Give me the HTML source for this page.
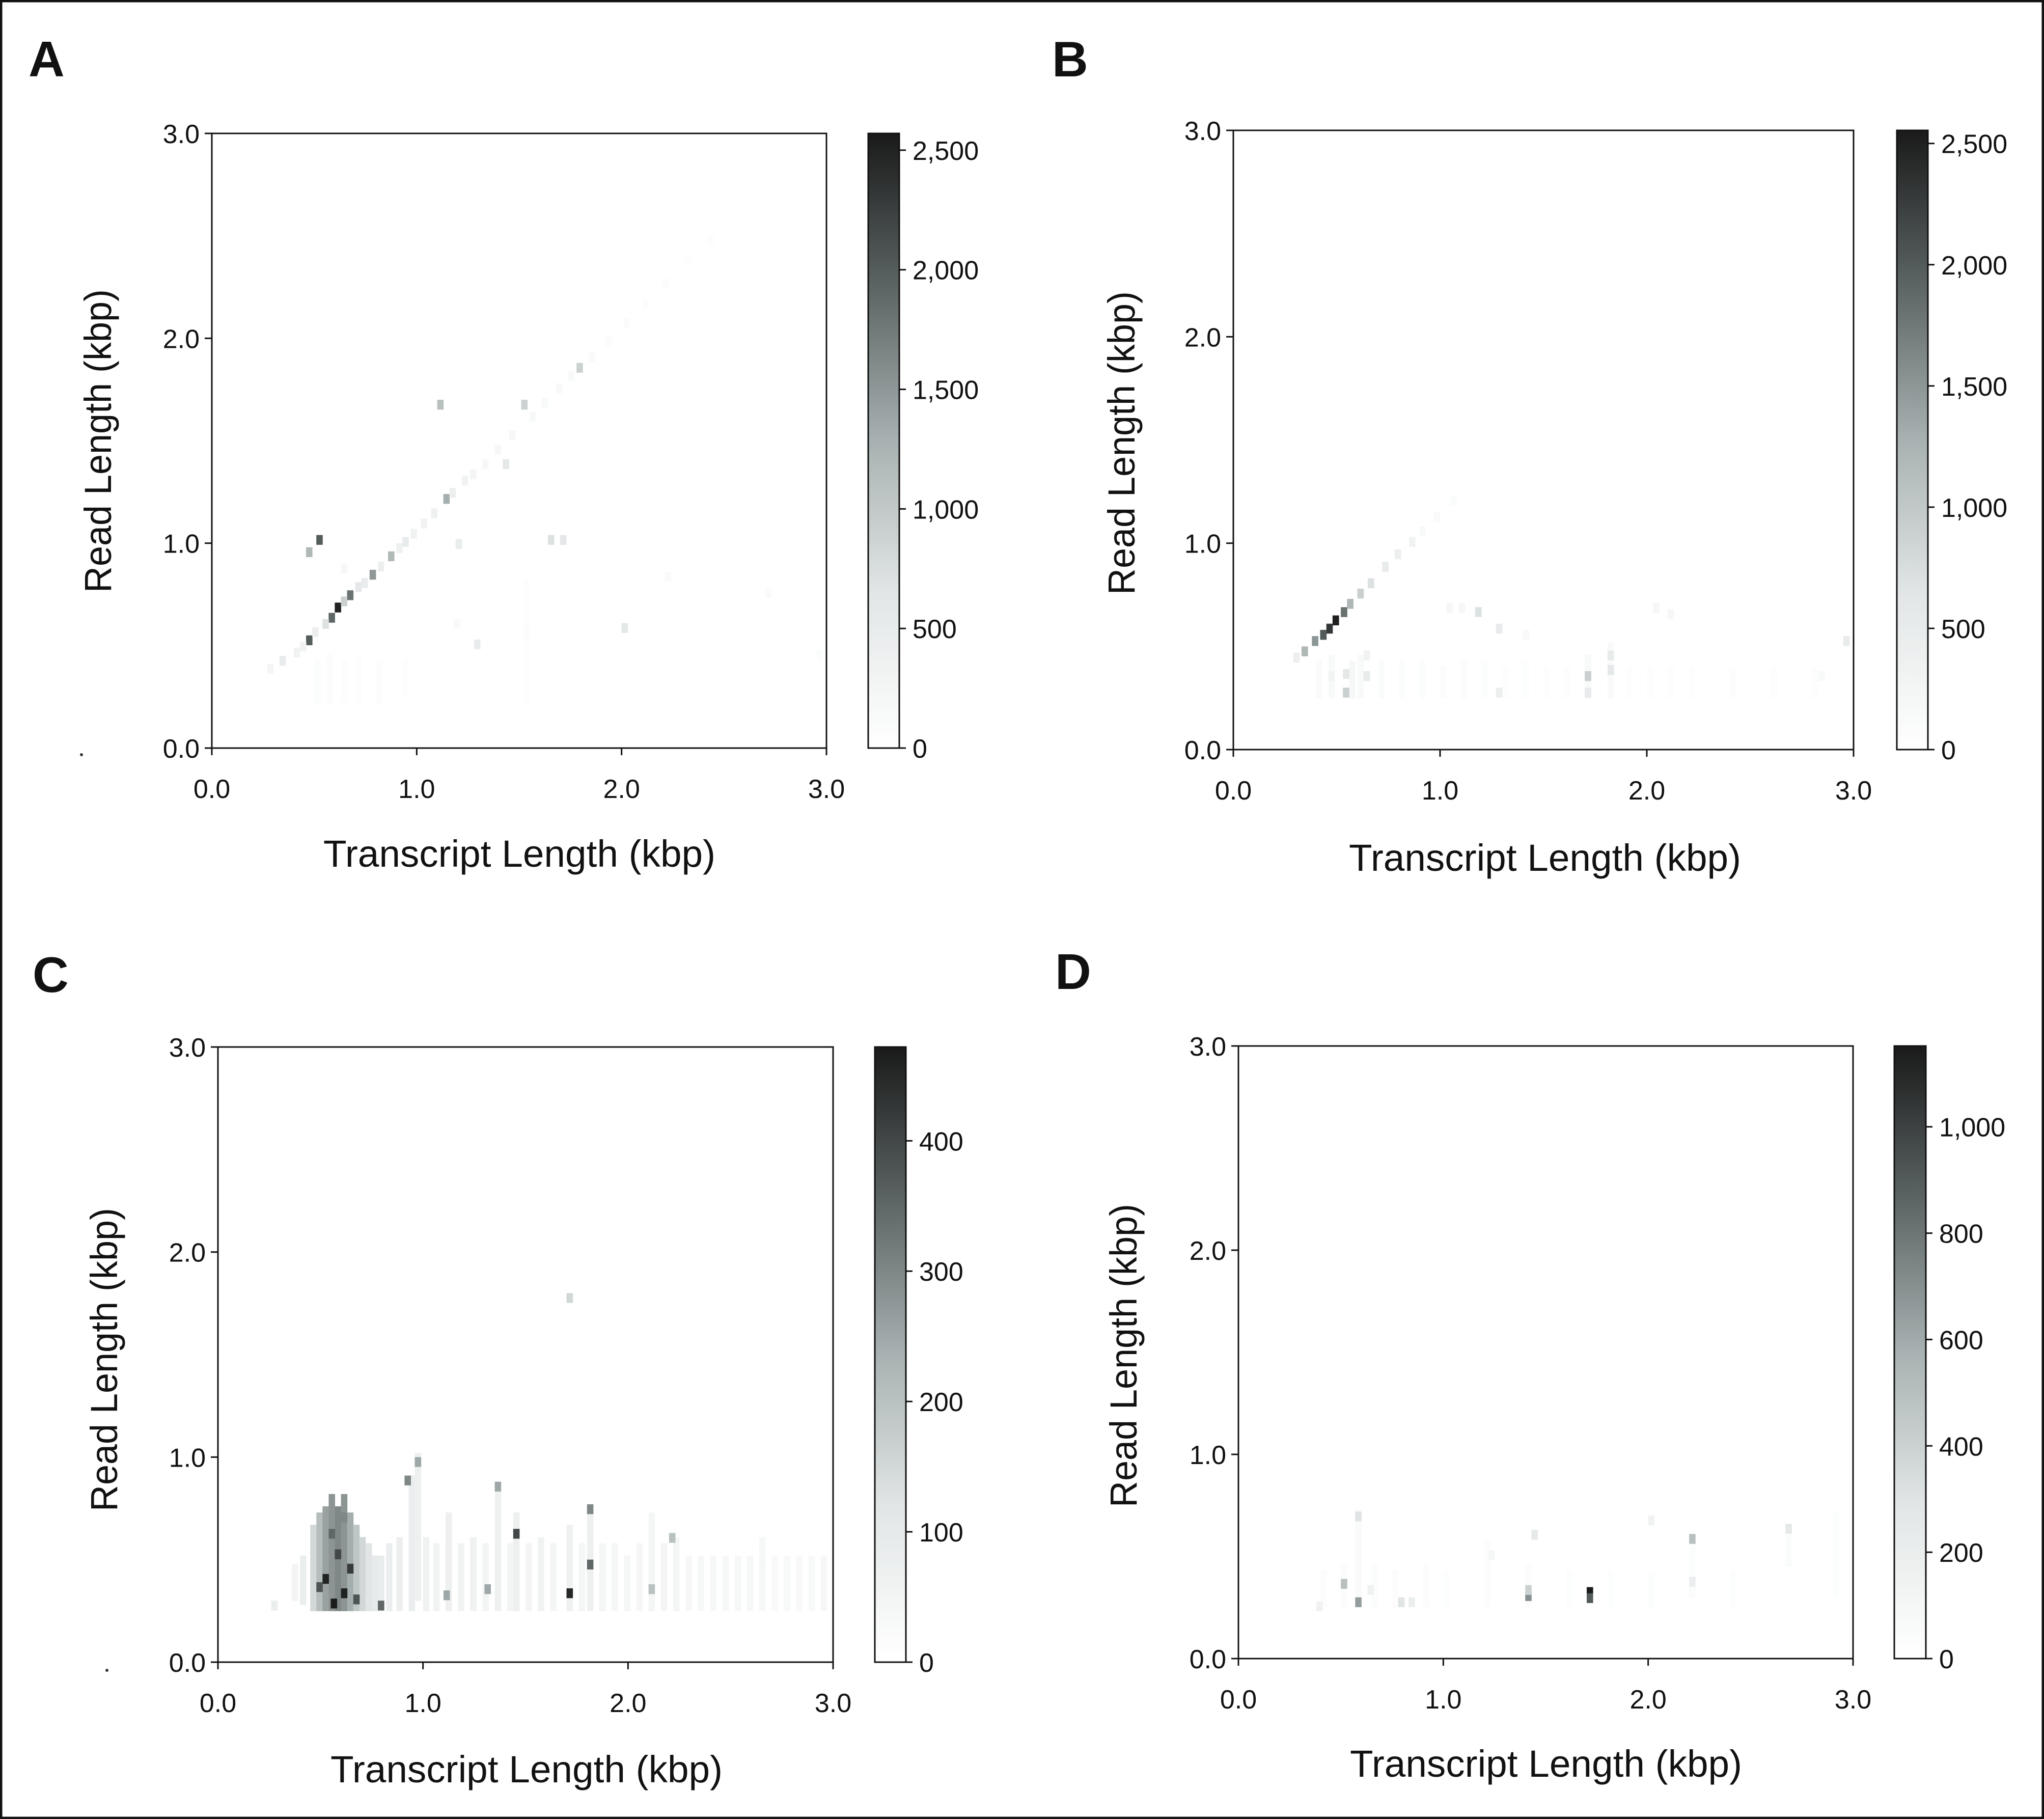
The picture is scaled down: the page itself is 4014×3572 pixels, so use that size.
<!DOCTYPE html>
<html><head><meta charset="utf-8"><style>
html,body{margin:0;padding:0;background:#fff}
svg{display:block}
text{font-family:"Liberation Sans",sans-serif;fill:#111}
</style></head><body>
<svg id="fig" width="4014" height="3572" viewBox="0 0 4014 3572" xmlns="http://www.w3.org/2000/svg">
<defs>
<linearGradient id="cmap" x1="0" y1="1" x2="0" y2="0">
<stop offset="0" stop-color="#ffffff"/><stop offset="0.25" stop-color="#e2e6e6"/><stop offset="0.5" stop-color="#a8b1b1"/><stop offset="0.75" stop-color="#5c6464"/><stop offset="1" stop-color="#1a1a1a"/>
</linearGradient>
</defs>
<rect x="2" y="2" width="4010" height="3568" fill="#fff" stroke="#111" stroke-width="5"/>
</svg>
<script>
// ---- data (kbp, counts) ----
const xTicks=[0,1,2,3];
const xTickLabels=["0.0","1.0","2.0","3.0"];
const yTicks=[0,1,2,3];
const yTickLabels=["0.0","1.0","2.0","3.0"];
const cbarMaxA=2570, cbarTicksA=[0,500,1000,1500,2000,2500], cbarLabelsA=["0","500","1,000","1,500","2,000","2,500"];
const cbarMaxB=2554, cbarTicksB=[0,500,1000,1500,2000,2500], cbarLabelsB=["0","500","1,000","1,500","2,000","2,500"];
const cbarMaxC=472, cbarTicksC=[0,100,200,300,400], cbarLabelsC=["0","100","200","300","400"];
const cbarMaxD=1152, cbarTicksD=[0,200,400,600,800,1000], cbarLabelsD=["0","200","400","600","800","1,000"];
// point cells [transcript, read, count]
const cellsA=[[0.60,0.68,2500],[0.57,0.63,1900],[0.66,0.74,1800],[0.46,0.52,2000],[0.51,1.01,2000],[0.46,0.95,1200],[0.77,0.84,1500],[0.86,0.93,1200],[1.13,1.21,1300],[1.10,1.67,1100],[1.51,1.67,900],[1.78,1.85,900],[1.64,1.01,700],[1.70,1.01,600],[2.00,0.58,600],[0.93,1.00,500],[1.19,0.99,500],[1.28,0.50,500],[0.33,0.42,500],[1.42,1.38,600],[0.54,0.60,700],[0.63,0.71,900],[0.70,0.78,600],[0.73,0.80,500],[0.81,0.88,400],[0.90,0.97,350],[0.97,1.04,300],[1.02,1.09,300],[1.07,1.14,350],[1.16,1.24,400],[1.22,1.30,300],[1.26,1.33,250],[1.32,1.38,200],[1.38,1.45,200],[1.45,1.52,200],[1.55,1.61,180],[1.61,1.68,150],[1.68,1.75,150],[1.74,1.81,150],[1.84,1.90,120],[1.92,1.98,100],[2.01,2.07,90],[2.10,2.16,80],[2.20,2.26,70],[2.31,2.37,60],[2.42,2.47,50],[2.70,0.75,120],[2.21,0.83,120],[0.27,0.38,250],[0.40,0.46,300],[0.43,0.49,300],[0.49,0.56,400],[1.18,0.60,150],[1.52,0.56,80],[0.63,0.87,200],[2.95,0.45,80]];
const cellsB=[[0.48,0.62,2500],[0.45,0.58,2300],[0.42,0.55,2000],[0.52,0.66,1800],[0.38,0.52,1500],[0.33,0.47,1200],[0.55,0.70,1200],[0.60,0.75,900],[0.65,0.80,700],[0.72,0.88,500],[0.78,0.94,400],[0.85,1.00,300],[0.53,0.27,900],[0.53,0.36,600],[0.63,0.35,500],[1.17,0.66,700],[1.27,0.58,500],[1.70,0.35,900],[1.81,0.38,600],[1.81,0.45,500],[2.95,0.52,500],[1.27,0.27,400],[0.46,0.35,300],[0.29,0.44,400],[0.63,0.45,300],[1.70,0.27,500],[1.03,0.68,200],[1.09,0.68,200],[2.03,0.68,200],[2.10,0.65,200],[0.90,1.05,150],[0.97,1.12,120],[1.05,1.20,100],[1.40,0.55,150],[2.83,0.35,150]];
// column segments [transcript, readFrom, readTo, count]
const segsB=[[0.40,0.25,0.40,120],[0.46,0.25,0.45,150],[0.56,0.25,0.40,200],[0.60,0.25,0.45,150],[0.70,0.25,0.40,100],[0.80,0.25,0.40,80],[0.90,0.25,0.40,80],[1.00,0.25,0.38,70],[1.10,0.25,0.40,70],[1.20,0.25,0.40,60],[1.30,0.25,0.38,60],[1.40,0.25,0.40,60],[1.50,0.25,0.38,50],[1.60,0.25,0.38,50],[1.70,0.25,0.45,150],[1.81,0.25,0.50,120],[1.90,0.25,0.38,50],[2.00,0.25,0.38,50],[2.10,0.25,0.38,40],[2.20,0.25,0.38,40],[2.40,0.25,0.38,40],[2.60,0.25,0.38,40],[2.80,0.25,0.38,40]];
const segsA=[[0.50,0.22,0.40,80],[0.56,0.22,0.45,70],[0.63,0.22,0.40,60],[0.70,0.22,0.45,50],[0.80,0.22,0.40,40],[0.93,0.25,0.40,40],[1.52,0.22,0.80,40]];
const segsC=[[0.36,0.30,0.45,50],[0.40,0.28,0.50,80],[0.45,0.25,0.65,150],[0.48,0.25,0.70,210],[0.51,0.25,0.75,260],[0.54,0.25,0.80,280],[0.57,0.25,0.75,300],[0.60,0.25,0.80,280],[0.63,0.25,0.70,240],[0.66,0.25,0.65,190],[0.69,0.25,0.60,150],[0.72,0.25,0.55,120],[0.75,0.25,0.50,100],[0.78,0.25,0.50,90],[0.82,0.25,0.55,80],[0.87,0.25,0.60,75],[0.93,0.25,0.90,80],[0.96,0.30,1.00,70],[1.00,0.25,0.60,60],[1.05,0.25,0.55,55],[1.11,0.25,0.70,70],[1.17,0.25,0.55,55],[1.23,0.25,0.60,60],[1.29,0.25,0.55,50],[1.35,0.25,0.85,65],[1.41,0.25,0.55,50],[1.44,0.25,0.70,70],[1.50,0.25,0.55,50],[1.56,0.25,0.60,55],[1.62,0.25,0.55,45],[1.70,0.25,0.65,65],[1.76,0.25,0.55,45],[1.80,0.25,0.75,70],[1.86,0.25,0.55,45],[1.92,0.25,0.55,40],[1.98,0.25,0.50,40],[2.04,0.25,0.55,40],[2.10,0.25,0.70,45],[2.16,0.25,0.55,45],[2.22,0.25,0.60,45],[2.28,0.25,0.50,35],[2.34,0.25,0.50,35],[2.40,0.25,0.50,35],[2.46,0.25,0.50,35],[2.52,0.25,0.50,35],[2.58,0.25,0.50,35],[2.64,0.25,0.60,35],[2.70,0.25,0.50,30],[2.76,0.25,0.50,30],[2.82,0.25,0.50,30],[2.88,0.25,0.50,30],[2.94,0.25,0.50,35]];
const cellsC=[[0.91,0.88,300],[0.96,0.97,250],[1.35,0.85,250],[1.44,0.62,400],[1.70,0.33,450],[1.80,0.74,300],[1.80,0.47,350],[2.20,0.60,200],[0.78,0.27,350],[1.10,0.32,250],[1.30,0.35,250],[2.10,0.35,200],[1.70,1.77,150],[0.55,0.28,470],[0.60,0.33,460],[0.51,0.40,460],[0.63,0.45,420],[0.26,0.27,80],[0.57,0.52,400],[0.48,0.36,380],[0.66,0.30,380],[0.54,0.62,350],[0.60,0.70,300]];
const segsD=[[0.40,0.25,0.40,30],[0.50,0.25,0.45,40],[0.57,0.25,0.70,60],[0.65,0.25,0.45,40],[0.75,0.25,0.40,30],[0.90,0.25,0.45,30],[1.00,0.25,0.40,25],[1.20,0.25,0.55,30],[1.40,0.25,0.45,30],[1.60,0.25,0.40,25],[1.80,0.25,0.40,25],[2.00,0.25,0.40,25],[2.20,0.30,0.60,40],[2.40,0.25,0.40,25],[2.67,0.45,0.65,50],[2.90,0.30,0.70,25]];
const cellsD=[[1.70,0.32,1150],[1.70,0.29,900],[1.40,0.30,700],[0.57,0.27,650],[0.50,0.36,500],[2.20,0.58,500],[0.57,0.69,300],[0.78,0.27,300],[0.83,0.27,200],[1.43,0.60,250],[2.67,0.63,250],[2.20,0.37,200],[2.00,0.67,150],[1.22,0.50,100],[0.63,0.33,150],[1.40,0.33,400],[0.38,0.25,150]];

const panels=[
 {id:"a",letter:"A",lx:56,ly:150,px:416,py:262,pw:1207,ph:1207,cx:1705,cw:61,max:cbarMaxA,ct:cbarTicksA,cl:cbarLabelsA,cells:cellsA,segs:segsA,xt:[1020,1702],yt:[218,866],dot:[160,1482]},
 {id:"b",letter:"B",lx:2066,ly:150,px:2422,py:256,pw:1218,ph:1216,cx:3725,cw:61,max:cbarMaxB,ct:cbarTicksB,cl:cbarLabelsB,cells:cellsB,segs:segsB,xt:[3034,1710],yt:[2228,870],dot:null},
 {id:"c",letter:"C",lx:64,ly:1948,px:428,py:2056,pw:1208,ph:1208,cx:1718,cw:61,max:cbarMaxC,ct:cbarTicksC,cl:cbarLabelsC,cells:cellsC,segs:segsC,xt:[1034,3500],yt:[230,2670],dot:[210,3280]},
 {id:"d",letter:"D",lx:2072,ly:1942,px:2432,py:2054,pw:1207,ph:1203,cx:3720,cw:62,max:cbarMaxD,ct:cbarTicksD,cl:cbarLabelsD,cells:cellsD,segs:segsD,xt:[3036,3489],yt:[2232,2662],dot:null}
];
const NS="http://www.w3.org/2000/svg";
const svg=document.getElementById("fig");
function mk(tag,attrs,parent){const e=document.createElementNS(NS,tag);for(const k in attrs)e.setAttribute(k,attrs[k]);(parent||svg).appendChild(e);return e;}
const stops=[[0,[255,255,255]],[0.25,[226,230,230]],[0.5,[168,177,177]],[0.75,[92,100,100]],[1,[26,26,26]]];
function cmap(t){t=Math.max(0,Math.min(1,t));for(let i=1;i<stops.length;i++){if(t<=stops[i][0]){const a=stops[i-1],b=stops[i];const f=(t-a[0])/(b[0]-a[0]);const c=a[1].map((v,j)=>Math.round(v+(b[1][j]-v)*f));return `rgb(${c[0]},${c[1]},${c[2]})`;}}return "rgb(26,26,26)";}
const BIN=0.03;
panels.forEach(p=>{
 const g=mk("g",{});
 
 
 const xs=v=>p.px+v/3*p.pw, ys=v=>p.py+p.ph-v/3*p.ph;
 const L=mk("text",{x:p.lx,y:p.ly,"font-size":98,"font-weight":"bold"},g);L.textContent=p.letter;
 
 
 const hm=mk("g",{},g);
 
 
 const cw=BIN/3*p.pw, ch=BIN/3*p.ph;
 p.segs.forEach(s=>{for(let r=s[1];r<=s[2]+1e-9;r+=BIN){const c=mk("rect",{x:xs(s[0]),y:ys(r)-ch,width:cw+0.5,height:ch+0.5,fill:cmap(s[3]/p.max)},hm);
  
  }});
 p.cells.forEach(s=>{const c=mk("rect",{x:xs(s[0]),y:ys(s[1])-ch,width:cw+0.5,height:ch*1.6,fill:cmap(s[2]/p.max)},hm);
  
  });
 const fr=mk("rect",{x:p.px,y:p.py,width:p.pw,height:p.ph,fill:"none",stroke:"#111","stroke-width":3},g);
 
 
 xTicks.forEach((t,i)=>{mk("line",{x1:xs(t),x2:xs(t),y1:p.py+p.ph,y2:p.py+p.ph+14,stroke:"#111","stroke-width":3},g);
  const tx=mk("text",{x:xs(t),y:p.py+p.ph+98,"font-size":52,"text-anchor":"middle"},g);tx.textContent=xTickLabels[i];
  
  });
 yTicks.forEach((t,i)=>{mk("line",{x1:p.px-14,x2:p.px,y1:ys(t),y2:ys(t),stroke:"#111","stroke-width":3},g);
  const tx=mk("text",{x:p.px-24,y:ys(t)+19,"font-size":52,"text-anchor":"end"},g);tx.textContent=yTickLabels[i];
  
  });
 const xt=mk("text",{x:p.xt[0],y:p.xt[1],"font-size":74,"text-anchor":"middle",textLength:770,lengthAdjust:"spacingAndGlyphs"},g);xt.textContent="Transcript Length (kbp)";
 
 
 const yt=mk("text",{x:0,y:0,"font-size":74,"text-anchor":"middle",textLength:596,lengthAdjust:"spacingAndGlyphs",transform:`translate(${p.yt[0]},${p.yt[1]}) rotate(-90)`},g);yt.textContent="Read Length (kbp)";
 
 
 const cb=mk("rect",{x:p.cx,y:p.py,width:p.cw,height:p.ph,fill:"url(#cmap)",stroke:"#111","stroke-width":3},g);
 
 
 const cs=v=>p.py+p.ph-v/p.max*p.ph;
 p.ct.forEach((t,i)=>{mk("line",{x1:p.cx+p.cw,x2:p.cx+p.cw+13,y1:cs(t),y2:cs(t),stroke:"#111","stroke-width":3},g);
  const tx=mk("text",{x:p.cx+p.cw+26,y:cs(t)+19,"font-size":52},g);tx.textContent=p.cl[i];
  
  });
 if(p.dot){const d=mk("circle",{cx:p.dot[0],cy:p.dot[1],r:3,fill:"#333"},g);
  
  }
});
</script>
</body></html>
